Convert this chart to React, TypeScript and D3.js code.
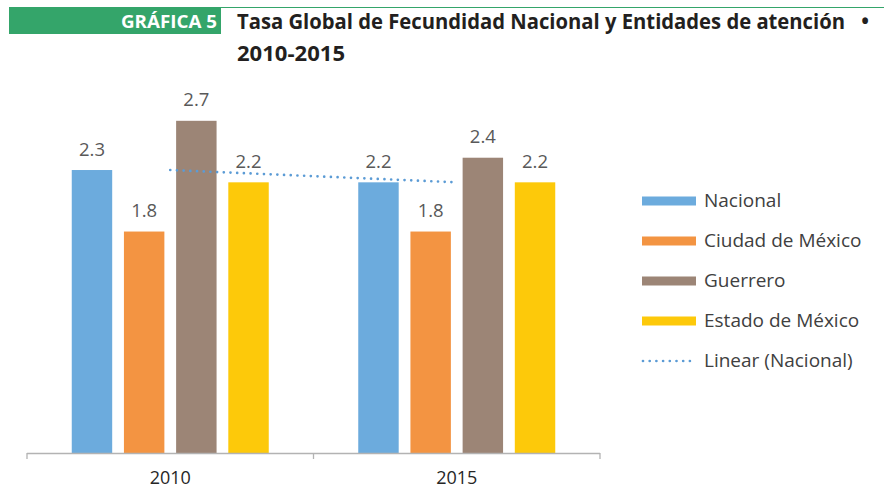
import React from 'react';
import * as d3 from 'd3';

const years = ['2010', '2015'];
const seriesNames = ['Nacional', 'Ciudad de México', 'Guerrero', 'Estado de México'];
const nacional = [2.3, 2.2];
const ciudadMexico = [1.8, 1.8];
const guerrero = [2.7, 2.4];
const estadoMexico = [2.2, 2.2];
const seriesColors = ['#6CABDD', '#F39442', '#9C8576', '#FDC90A'];
const trendLabel = 'Linear (Nacional)';
const titleTag = 'GRÁFICA 5';
const titleLine1 = 'Tasa Global de Fecundidad Nacional y Entidades de atención';
const titleLine2 = '2010-2015';

const seriesValues = [nacional, ciudadMexico, guerrero, estadoMexico];

export default function App() {
  const W = 884, H = 488;
  const baseY = 453;
  const x0 = d3.scaleBand<string>().domain(years).range([27, 600]).padding(0);
  const y = d3.scaleLinear().domain([0, 3]).range([baseY, baseY - 369.1]);
  const innerW = 197;
  const x1 = d3.scaleBand<string>().domain(seriesNames).range([0, innerW]).paddingInner(0.225).paddingOuter(0);
  const font = "'Open Sans', 'Noto Sans', sans-serif";

  // linear trend through Nacional at group centers
  const n = nacional.length;
  const xs = d3.range(n);
  const mx = d3.mean(xs)!, my = d3.mean(nacional)!;
  const slope = d3.sum(xs, (v, i) => (v - mx) * (nacional[i] - my)) / d3.sum(xs, v => (v - mx) ** 2);
  const icpt = my - slope * mx;
  const trendPts: [number, number][] = years.map((yr, i) => [x0(yr)! + x0.bandwidth() / 2, y(icpt + slope * i)]);
  const line = d3.line();

  const legendY = [201, 241, 281, 321];
  return (
    <svg width={W} height={H} style={{ position: 'absolute', left: 0, top: 0, background: '#fff' }}>
      {/* header */}
      <line x1={221} x2={884} y1={7.5} y2={7.5} stroke="#34A56A" strokeWidth={1.2} />
      <rect x={9} y={7} width={212} height={27} fill="#34A56A" />
      <text x={217} y={28} textAnchor="end" fill="#fff" fontFamily={font} fontWeight={700} fontSize={18.5} textLength={96} lengthAdjust="spacingAndGlyphs">{titleTag}</text>
      <text x={237} y={29} fill="#231F20" fontFamily={font} fontWeight={700} fontSize={20.5} textLength={608} lengthAdjust="spacingAndGlyphs">{titleLine1}</text>
      <text x={865} y={29} textAnchor="middle" fill="#231F20" fontFamily={font} fontWeight={700} fontSize={20.5}>•</text>
      <text x={237} y={61} fill="#231F20" fontFamily={font} fontWeight={700} fontSize={20.5} textLength={108} lengthAdjust="spacingAndGlyphs">{titleLine2}</text>

      {/* bars */}
      {years.map((yr, gi) => {
        const gx = x0(yr)! + x0.bandwidth() / 2 - innerW / 2;
        return (
          <g key={yr} transform={`translate(${gx},0)`}>
            {seriesNames.map((s, si) => {
              const v = seriesValues[si][gi];
              const bx = x1(s)!;
              return (
                <g key={s}>
                  <rect x={bx} y={y(v)} width={x1.bandwidth()} height={baseY - y(v)} fill={seriesColors[si]} />
                  <text x={bx + x1.bandwidth() / 2} y={y(v) - 14.5} textAnchor="middle" fill="#595959" fontFamily={font} fontSize={18.5}>{v.toFixed(1)}</text>
                </g>
              );
            })}
          </g>
        );
      })}

      {/* trend */}
      <path d={line(trendPts)!} fill="none" stroke="#5B9BD5" strokeWidth={2.7} strokeLinecap="round" strokeDasharray="0 6.7" />

      {/* axis */}
      <line x1={27} x2={600} y1={baseY + 0.5} y2={baseY + 0.5} stroke="#B3B3B3" strokeWidth={1.3} />
      {[...years.map(yr => x0(yr)!), 600].map((tx, i) => (
        <line key={i} x1={tx} x2={tx} y1={baseY} y2={baseY + 6} stroke="#B3B3B3" strokeWidth={1.3} />
      ))}
      {years.map(yr => (
        <text key={yr} x={x0(yr)! + x0.bandwidth() / 2} y={484} textAnchor="middle" fill="#262626" fontFamily={font} fontSize={18}>{yr}</text>
      ))}

      {/* legend */}
      {seriesNames.map((s, i) => (
        <g key={s}>
          <rect x={642} y={legendY[i] - 4.5} width={54} height={9} fill={seriesColors[i]} />
          <text x={704} y={legendY[i] + 6} fill="#404040" fontFamily={font} fontSize={19}>{s}</text>
        </g>
      ))}
      <line x1={643} x2={696} y1={361} y2={361} stroke="#5B9BD5" strokeWidth={2.7} strokeLinecap="round" strokeDasharray="0 6.7" />
      <text x={704} y={367} fill="#404040" fontFamily={font} fontSize={19}>{trendLabel}</text>
    </svg>
  );
}
